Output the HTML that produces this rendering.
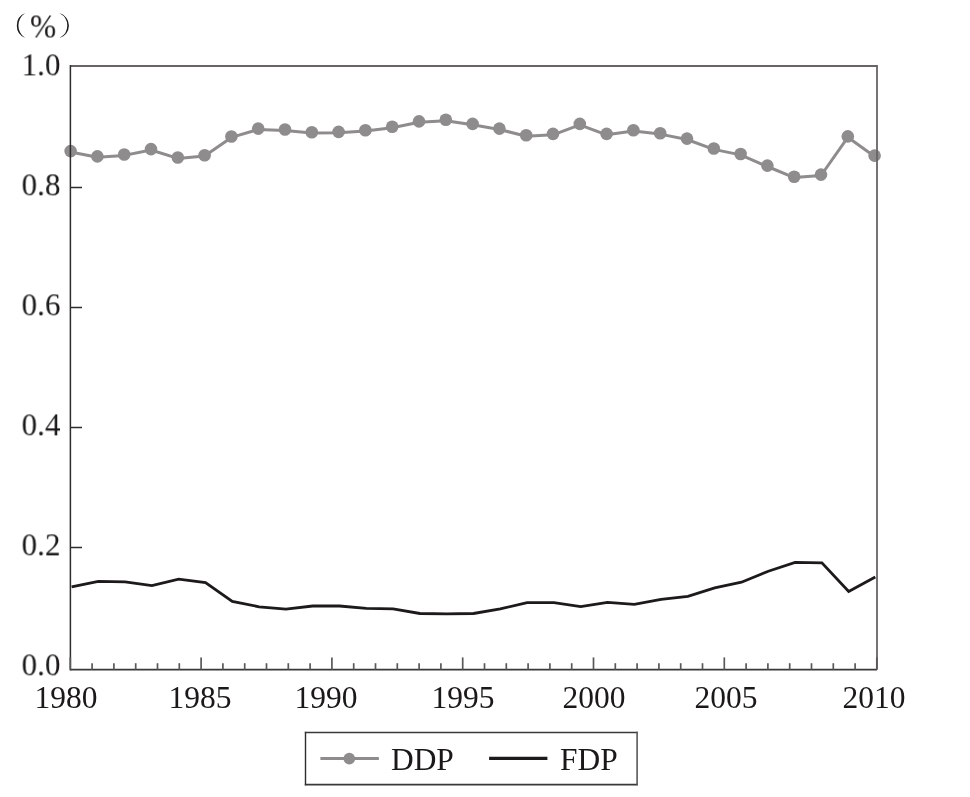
<!DOCTYPE html>
<html><head><meta charset="utf-8">
<style>
html,body{margin:0;padding:0;background:#fff;}
body{-webkit-font-smoothing:antialiased;width:970px;height:797px;position:relative;overflow:hidden;font-family:"Liberation Serif",serif;color:#1a1818;}
svg{position:absolute;left:0;top:0;}
.yl{position:absolute;will-change:transform;transform:scale(0.985,1.035);transform-origin:100% 0;right:910px;font-size:31.5px;line-height:0;white-space:nowrap;}
.xl{position:absolute;will-change:transform;transform:scale(1,1.035);transform-origin:50% 0;width:80px;text-align:center;top:698.1px;font-size:31.5px;line-height:0;}
.pct{position:absolute;will-change:transform;font-size:33px;line-height:0;}
.lt{position:absolute;will-change:transform;font-size:31.4px;line-height:0;top:759.5px;}
</style></head><body>
<svg width="970" height="797" viewBox="0 0 970 797">
<polyline points="71.6,586.8 98.3,581.3 125.1,581.9 151.9,585.6 178.7,579.2 205.5,582.6 232.3,601.4 259.1,606.8 285.9,609.1 312.7,606.0 339.5,606.0 366.3,608.3 393.1,608.9 419.9,613.5 446.7,613.8 473.5,613.5 500.3,608.9 527.1,602.6 553.9,602.7 580.7,606.6 607.5,602.3 634.3,604.4 661.1,599.3 687.9,596.3 714.7,587.8 741.5,582.2 768.3,571.2 795.1,562.3 821.9,562.9 848.7,591.5 875.3,577.1" fill="none" stroke="#1c1a1b" stroke-width="2.8" stroke-linejoin="miter" stroke-linecap="butt"/>
<polyline points="70.6,152.0 97.4,157.3 124.2,155.4 151.0,150.0 177.8,158.4 204.6,156.1 231.4,137.4 258.2,129.5 285.0,130.4 311.8,133.1 338.6,132.8 365.4,131.1 392.2,127.7 419.0,122.3 445.8,120.7 472.6,124.8 499.4,129.5 526.2,136.2 553.0,134.8 579.8,124.8 606.6,134.8 633.4,131.1 660.2,134.1 687.0,139.5 713.8,149.4 740.6,154.9 767.4,166.5 794.2,177.6 821.0,175.5 847.8,137.3 874.6,156.5" fill="none" stroke="#8e8c8d" stroke-width="3" stroke-linejoin="round"/>
<circle cx="70.6" cy="151.1" r="6.3" fill="#8e8c8d"/>
<circle cx="97.4" cy="156.4" r="6.3" fill="#8e8c8d"/>
<circle cx="124.2" cy="154.5" r="6.3" fill="#8e8c8d"/>
<circle cx="151.0" cy="149.1" r="6.3" fill="#8e8c8d"/>
<circle cx="177.8" cy="157.5" r="6.3" fill="#8e8c8d"/>
<circle cx="204.6" cy="155.2" r="6.3" fill="#8e8c8d"/>
<circle cx="231.4" cy="136.5" r="6.3" fill="#8e8c8d"/>
<circle cx="258.2" cy="128.6" r="6.3" fill="#8e8c8d"/>
<circle cx="285.0" cy="129.5" r="6.3" fill="#8e8c8d"/>
<circle cx="311.8" cy="132.2" r="6.3" fill="#8e8c8d"/>
<circle cx="338.6" cy="131.9" r="6.3" fill="#8e8c8d"/>
<circle cx="365.4" cy="130.2" r="6.3" fill="#8e8c8d"/>
<circle cx="392.2" cy="126.8" r="6.3" fill="#8e8c8d"/>
<circle cx="419.0" cy="121.4" r="6.3" fill="#8e8c8d"/>
<circle cx="445.8" cy="119.8" r="6.3" fill="#8e8c8d"/>
<circle cx="472.6" cy="123.9" r="6.3" fill="#8e8c8d"/>
<circle cx="499.4" cy="128.6" r="6.3" fill="#8e8c8d"/>
<circle cx="526.2" cy="135.3" r="6.3" fill="#8e8c8d"/>
<circle cx="553.0" cy="133.9" r="6.3" fill="#8e8c8d"/>
<circle cx="579.8" cy="123.9" r="6.3" fill="#8e8c8d"/>
<circle cx="606.6" cy="133.9" r="6.3" fill="#8e8c8d"/>
<circle cx="633.4" cy="130.2" r="6.3" fill="#8e8c8d"/>
<circle cx="660.2" cy="133.2" r="6.3" fill="#8e8c8d"/>
<circle cx="687.0" cy="138.6" r="6.3" fill="#8e8c8d"/>
<circle cx="713.8" cy="148.5" r="6.3" fill="#8e8c8d"/>
<circle cx="740.6" cy="154.0" r="6.3" fill="#8e8c8d"/>
<circle cx="767.4" cy="165.6" r="6.3" fill="#8e8c8d"/>
<circle cx="794.2" cy="176.7" r="6.3" fill="#8e8c8d"/>
<circle cx="821.0" cy="174.6" r="6.3" fill="#8e8c8d"/>
<circle cx="847.8" cy="136.4" r="6.3" fill="#8e8c8d"/>
<circle cx="874.6" cy="155.6" r="6.3" fill="#8e8c8d"/>
<line x1="70.4" y1="66.0" x2="877.0" y2="66.0" stroke="#676566" stroke-width="1.8"/>
<line x1="877.0" y1="65.1" x2="877.0" y2="669.6" stroke="#666465" stroke-width="1.8"/>
<line x1="70.4" y1="65.1" x2="70.4" y2="670.5" stroke="#2e2c2d" stroke-width="1.5"/>
<line x1="70.4" y1="669.6" x2="877.0" y2="669.6" stroke="#3a3839" stroke-width="1.7"/>
<line x1="70.4" y1="547.5" x2="82" y2="547.5" stroke="#2e2c2d" stroke-width="1.5"/>
<line x1="70.4" y1="427.5" x2="82" y2="427.5" stroke="#2e2c2d" stroke-width="1.5"/>
<line x1="70.4" y1="307.5" x2="82" y2="307.5" stroke="#2e2c2d" stroke-width="1.5"/>
<line x1="70.4" y1="187.5" x2="82" y2="187.5" stroke="#2e2c2d" stroke-width="1.5"/>
<line x1="70.3" y1="657.4" x2="70.3" y2="669.6" stroke="#5a5859" stroke-width="1.7"/>
<line x1="92.1" y1="663.2" x2="92.1" y2="669.6" stroke="#5a5859" stroke-width="1.7"/>
<line x1="113.9" y1="663.2" x2="113.9" y2="669.6" stroke="#5a5859" stroke-width="1.7"/>
<line x1="135.7" y1="663.2" x2="135.7" y2="669.6" stroke="#5a5859" stroke-width="1.7"/>
<line x1="157.5" y1="663.2" x2="157.5" y2="669.6" stroke="#5a5859" stroke-width="1.7"/>
<line x1="179.3" y1="663.2" x2="179.3" y2="669.6" stroke="#5a5859" stroke-width="1.7"/>
<line x1="201.1" y1="657.4" x2="201.1" y2="669.6" stroke="#5a5859" stroke-width="1.7"/>
<line x1="222.9" y1="663.2" x2="222.9" y2="669.6" stroke="#5a5859" stroke-width="1.7"/>
<line x1="244.7" y1="663.2" x2="244.7" y2="669.6" stroke="#5a5859" stroke-width="1.7"/>
<line x1="266.5" y1="663.2" x2="266.5" y2="669.6" stroke="#5a5859" stroke-width="1.7"/>
<line x1="288.3" y1="663.2" x2="288.3" y2="669.6" stroke="#5a5859" stroke-width="1.7"/>
<line x1="310.1" y1="663.2" x2="310.1" y2="669.6" stroke="#5a5859" stroke-width="1.7"/>
<line x1="331.9" y1="657.4" x2="331.9" y2="669.6" stroke="#5a5859" stroke-width="1.7"/>
<line x1="353.7" y1="663.2" x2="353.7" y2="669.6" stroke="#5a5859" stroke-width="1.7"/>
<line x1="375.5" y1="663.2" x2="375.5" y2="669.6" stroke="#5a5859" stroke-width="1.7"/>
<line x1="397.3" y1="663.2" x2="397.3" y2="669.6" stroke="#5a5859" stroke-width="1.7"/>
<line x1="419.1" y1="663.2" x2="419.1" y2="669.6" stroke="#5a5859" stroke-width="1.7"/>
<line x1="440.9" y1="663.2" x2="440.9" y2="669.6" stroke="#5a5859" stroke-width="1.7"/>
<line x1="462.7" y1="657.4" x2="462.7" y2="669.6" stroke="#5a5859" stroke-width="1.7"/>
<line x1="484.5" y1="663.2" x2="484.5" y2="669.6" stroke="#5a5859" stroke-width="1.7"/>
<line x1="506.3" y1="663.2" x2="506.3" y2="669.6" stroke="#5a5859" stroke-width="1.7"/>
<line x1="528.1" y1="663.2" x2="528.1" y2="669.6" stroke="#5a5859" stroke-width="1.7"/>
<line x1="549.9" y1="663.2" x2="549.9" y2="669.6" stroke="#5a5859" stroke-width="1.7"/>
<line x1="571.7" y1="663.2" x2="571.7" y2="669.6" stroke="#5a5859" stroke-width="1.7"/>
<line x1="593.5" y1="657.4" x2="593.5" y2="669.6" stroke="#5a5859" stroke-width="1.7"/>
<line x1="615.3" y1="663.2" x2="615.3" y2="669.6" stroke="#5a5859" stroke-width="1.7"/>
<line x1="637.1" y1="663.2" x2="637.1" y2="669.6" stroke="#5a5859" stroke-width="1.7"/>
<line x1="658.9" y1="663.2" x2="658.9" y2="669.6" stroke="#5a5859" stroke-width="1.7"/>
<line x1="680.7" y1="663.2" x2="680.7" y2="669.6" stroke="#5a5859" stroke-width="1.7"/>
<line x1="702.5" y1="663.2" x2="702.5" y2="669.6" stroke="#5a5859" stroke-width="1.7"/>
<line x1="724.3" y1="657.4" x2="724.3" y2="669.6" stroke="#5a5859" stroke-width="1.7"/>
<line x1="746.1" y1="663.2" x2="746.1" y2="669.6" stroke="#5a5859" stroke-width="1.7"/>
<line x1="767.9" y1="663.2" x2="767.9" y2="669.6" stroke="#5a5859" stroke-width="1.7"/>
<line x1="789.7" y1="663.2" x2="789.7" y2="669.6" stroke="#5a5859" stroke-width="1.7"/>
<line x1="811.5" y1="663.2" x2="811.5" y2="669.6" stroke="#5a5859" stroke-width="1.7"/>
<line x1="833.3" y1="663.2" x2="833.3" y2="669.6" stroke="#5a5859" stroke-width="1.7"/>
<line x1="855.1" y1="663.2" x2="855.1" y2="669.6" stroke="#5a5859" stroke-width="1.7"/>
<line x1="876.8" y1="657.4" x2="876.8" y2="669.6" stroke="#5a5859" stroke-width="1.7"/>
<path d="M25.2,13.1 A13.43,13.43 0 0 0 25.2,38.0 L24.6,37.6 A14.8,14.8 0 0 1 24.6,13.5 Z" fill="#1a1818"/>
<path d="M59.4,13.1 A12.9,12.9 0 0 1 59.4,38.0 L60.0,37.6 A13.6,13.6 0 0 0 60.0,13.5 Z" fill="#1a1818"/>
<line x1="305.5" y1="731.8" x2="305.5" y2="785.3" stroke="#2e2c2d" stroke-width="1.4"/>
<line x1="304.8" y1="732.5" x2="637.8" y2="732.5" stroke="#3a3839" stroke-width="1.4"/>
<line x1="304.8" y1="784.6" x2="637.8" y2="784.6" stroke="#3a3839" stroke-width="1.6"/>
<line x1="637.1" y1="731.8" x2="637.1" y2="785.3" stroke="#5a5859" stroke-width="1.6"/>
<line x1="320.4" y1="758.4" x2="378.9" y2="758.4" stroke="#8e8c8d" stroke-width="3"/>
<circle cx="349.3" cy="758.6" r="5.85" fill="#8e8c8d"/>
<line x1="489.1" y1="758.4" x2="547.4" y2="758.4" stroke="#1c1a1b" stroke-width="3.2"/>
</svg>
<div class="yl" style="top:65.0px">1.0</div>
<div class="yl" style="top:185.0px">0.8</div>
<div class="yl" style="top:305.0px">0.6</div>
<div class="yl" style="top:425.0px">0.4</div>
<div class="yl" style="top:545.0px">0.2</div>
<div class="yl" style="top:665.0px">0.0</div>
<div class="xl" style="left:25.9px">1980</div>
<div class="xl" style="left:159.6px">1985</div>
<div class="xl" style="left:285.6px">1990</div>
<div class="xl" style="left:423.2px">1995</div>
<div class="xl" style="left:554.4px">2000</div>
<div class="xl" style="left:685.6px">2005</div>
<div class="xl" style="left:834.2px">2010</div>
<div class="pct" style="left:29.6px;top:25.6px;transform:scale(0.95,1.03);transform-origin:0 0">%</div>
<div class="lt" style="left:391.3px">DDP</div>
<div class="lt" style="left:560px">FDP</div>
</body></html>
